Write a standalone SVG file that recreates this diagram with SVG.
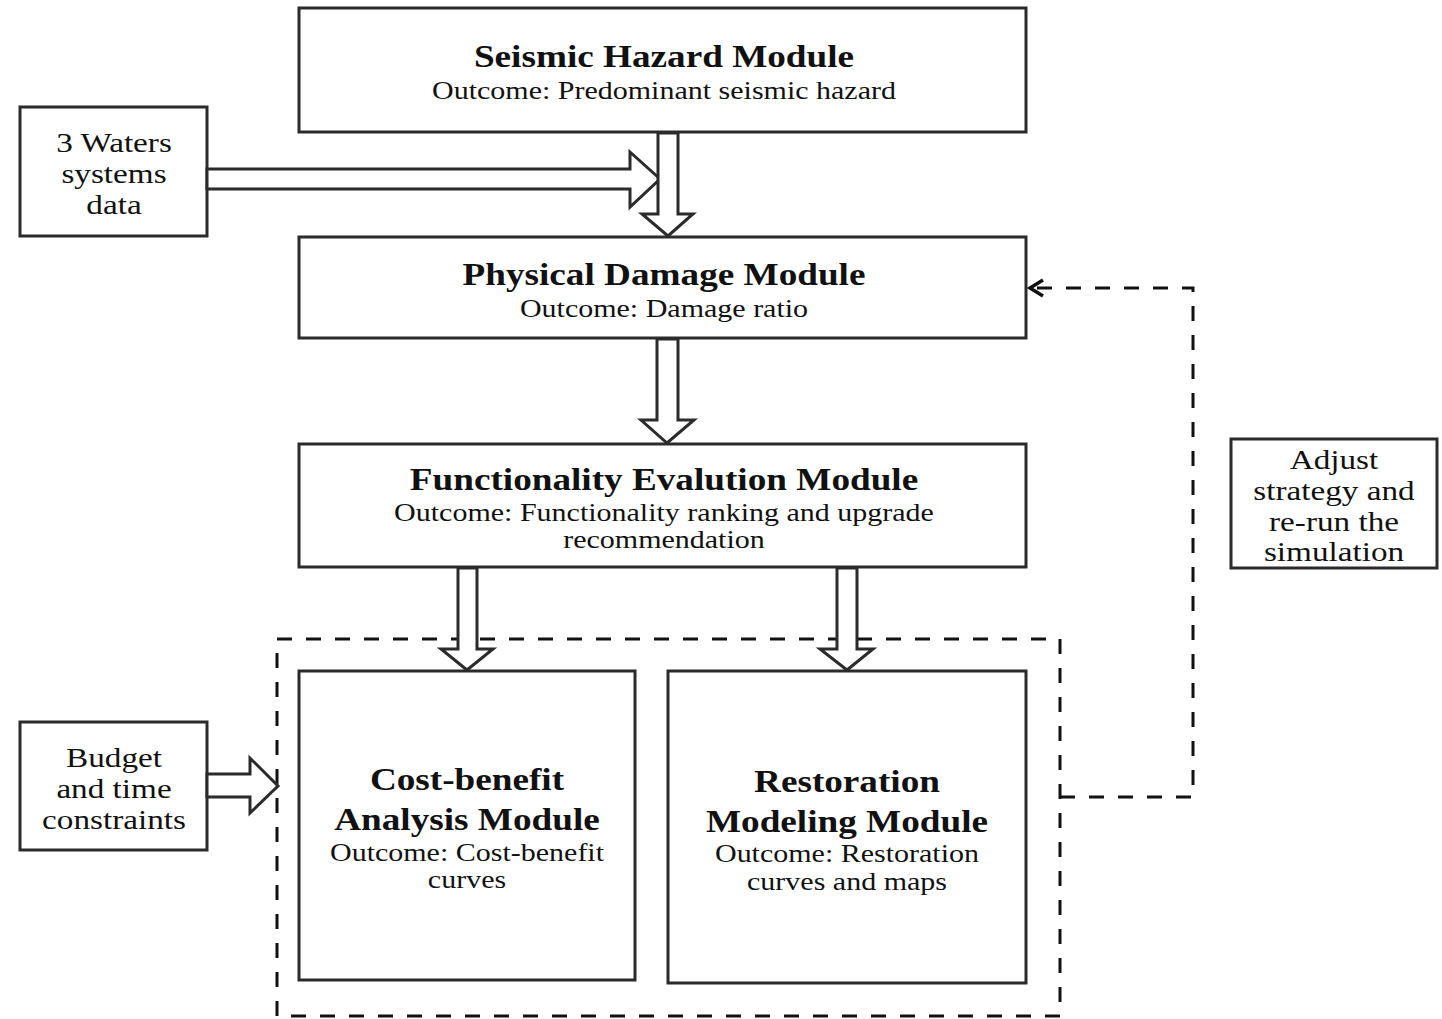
<svg xmlns="http://www.w3.org/2000/svg" width="1442" height="1019" viewBox="0 0 1442 1019">
<style>
.box{fill:#fff;stroke:#2b2b2b;stroke-width:3}
.arr{fill:#fff;stroke:#2b2b2b;stroke-width:3;stroke-linejoin:miter}
.dash{fill:none;stroke:#111;stroke-width:3;stroke-dasharray:15 14}
text{font-family:"Liberation Serif","Times New Roman",serif;fill:#111;text-anchor:middle}
.t{font-size:31px;font-weight:bold}
.b{font-size:25px}
.s{font-size:27px}
</style>
<rect width="1442" height="1019" fill="#fff"/>
<g id="group-box"><rect x="277" y="639" width="783" height="377" class="dash"/></g>
<g id="seismic"><rect class="box" x="299" y="8" width="727" height="124"/>
<text class="t" transform="matrix(1.2,0,0,1,664,67)">Seismic Hazard Module</text>
<text class="b" transform="matrix(1.2,0,0,1,664,99)">Outcome: Predominant seismic hazard</text></g>
<g id="waters"><rect class="box" x="20" y="107" width="187" height="129"/>
<text class="s" transform="matrix(1.23,0,0,1,114,152)">3 Waters</text>
<text class="s" transform="matrix(1.23,0,0,1,114,183)">systems</text>
<text class="s" transform="matrix(1.23,0,0,1,114,214)">data</text></g>
<g id="physical"><rect class="box" x="299" y="237" width="727" height="101"/>
<text class="t" transform="matrix(1.2,0,0,1,664,285)">Physical Damage Module</text>
<text class="b" transform="matrix(1.2,0,0,1,664,317)">Outcome: Damage ratio</text></g>
<g id="functionality"><rect class="box" x="299" y="444" width="727" height="123"/>
<text class="t" transform="matrix(1.2,0,0,1,664,490)">Functionality Evalution Module</text>
<text class="b" transform="matrix(1.2,0,0,1,664,521)">Outcome: Functionality ranking and upgrade</text>
<text class="b" transform="matrix(1.2,0,0,1,664,548)">recommendation</text></g>
<g id="costbenefit"><rect class="box" x="299" y="671" width="336" height="309"/>
<text class="t" transform="matrix(1.2,0,0,1,467,790)">Cost-benefit</text>
<text class="t" transform="matrix(1.2,0,0,1,467,830)">Analysis Module</text>
<text class="b" transform="matrix(1.2,0,0,1,467,861)">Outcome: Cost-benefit</text>
<text class="b" transform="matrix(1.2,0,0,1,467,888)">curves</text></g>
<g id="restoration"><rect class="box" x="668" y="671" width="358" height="312"/>
<text class="t" transform="matrix(1.2,0,0,1,847,792)">Restoration</text>
<text class="t" transform="matrix(1.2,0,0,1,847,832)">Modeling Module</text>
<text class="b" transform="matrix(1.2,0,0,1,847,862)">Outcome: Restoration</text>
<text class="b" transform="matrix(1.2,0,0,1,847,890)">curves and maps</text></g>
<g id="adjust"><rect class="box" x="1231" y="439" width="206" height="129"/>
<text class="s" transform="matrix(1.23,0,0,1,1334,469)">Adjust</text>
<text class="s" transform="matrix(1.23,0,0,1,1334,500)">strategy and</text>
<text class="s" transform="matrix(1.23,0,0,1,1334,531)">re-run the</text>
<text class="s" transform="matrix(1.23,0,0,1,1334,561)">simulation</text></g>
<g id="budget"><rect class="box" x="20" y="722" width="187" height="128"/>
<text class="s" transform="matrix(1.23,0,0,1,114,767)">Budget</text>
<text class="s" transform="matrix(1.23,0,0,1,114,798)">and time</text>
<text class="s" transform="matrix(1.23,0,0,1,114,829)">constraints</text></g>
<g id="connectors">
<polygon class="arr" points="207,169 630,169 630,152 660,179 630,207 630,189 207,189"/>
<polygon class="arr" points="658,133 678,133 678,214 693,214 668,236 642,214 658,214"/>
<polygon class="arr" points="657,339 678,339 678,420 694,420 667,443 641,420 657,420"/>
<polygon class="arr" points="458,568 477,568 477,649 493,649 467,670 441,649 458,649"/>
<polygon class="arr" points="837,568 857,568 857,649 873,649 847,670 820,649 837,649"/>
<polygon class="arr" points="207,774 250,774 250,758 278,786 250,813 250,797 207,797"/>
<polyline class="dash" points="1060,797 1193,797 1193,288 1032,288"/>
<polyline fill="none" stroke="#111" stroke-width="3.5" points="1043,280 1030,288 1043,296"/>
</g>
</svg>
